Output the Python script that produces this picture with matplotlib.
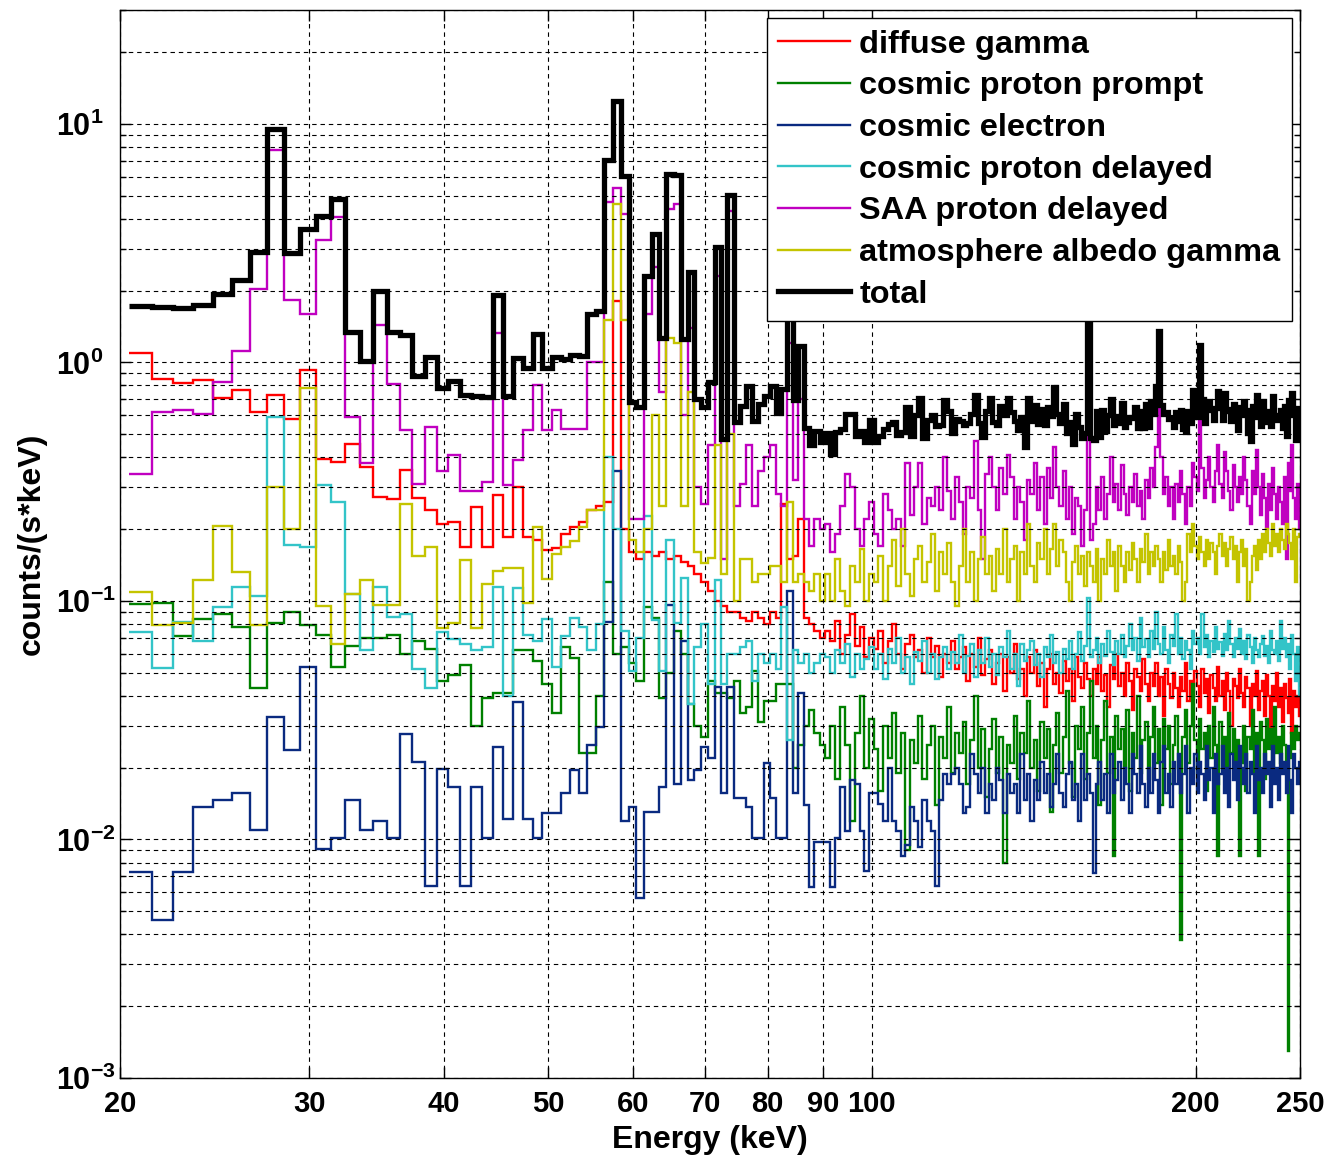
import numpy as np
import matplotlib
matplotlib.use("Agg")
import matplotlib.pyplot as plt
from matplotlib.ticker import FixedLocator, NullFormatter

plt.rcParams['font.family'] = ['Liberation Sans', 'DejaVu Sans']
plt.rcParams['font.weight'] = 'bold'
plt.rcParams['mathtext.fontset'] = 'custom'
plt.rcParams['mathtext.bf'] = 'Liberation Sans:bold'
plt.rcParams['mathtext.rm'] = 'Liberation Sans:bold'

# 1 keV energy bins from 20.4 to 250.4 keV
energy_edges = np.arange(20.4, 251.0, 1.0)

# counts/(s*keV) per bin, one value per 1 keV bin (21 ... 250 keV)
diffuse_gamma = [
    1.09, 0.855, 0.82, 0.846, 0.711, 0.763, 0.619, 0.727, 0.58, 0.93,      # 21-30
    0.395, 0.382, 0.456, 0.364, 0.272, 0.268, 0.353, 0.27, 0.24, 0.21,     # 31-40
    0.215, 0.168, 0.247, 0.168, 0.277, 0.185, 0.30, 0.185, 0.18, 0.163,    # 41-50
    0.167, 0.19, 0.205, 0.215, 0.24, 0.25, 0.26, 1.8, 0.20, 0.16,          # 51-60
    0.15, 0.16, 0.155, 0.16, 0.15, 0.155, 0.145, 0.14, 0.13, 0.12,         # 61-70
    0.11, 0.10, 0.095, 0.09, 0.09, 0.085, 0.082, 0.09, 0.085, 0.08,        # 71-80
    0.09, 0.085, 0.256, 0.15, 0.155, 0.22, 0.085, 0.08, 0.075, 0.07,       # 81-90
    .075, .068, .082, .060, .072, .088, .065, .078, .058, .070,            # 91-100
    .063, .075, .055, .068, .080, .060, .052, .066, .072, .058,
    .062, .050, .070, .058, .065, .048, .060, .055, .068, .052,
    .058, .064, .046, .060, .053, .070, .049, .057, .062, .045,
    .055, .060, .042, .058, .050, .066, .047, .052, .040, .058,
    .050, .062, .044, .055, .036, .052, .060, .045, .050, .041,
    .056, .046, .052, .038, .058, .048, .043, .055, .047, .040,
    .052, .045, .058, .042, .049, .036, .054, .047, .060, .044,
    .050, .040, .055, .046, .035, .052, .048, .042, .057, .045,
    .038, .050, .044, .055, .040, .048, .033, .052, .045, .039,
    .050, .043, .036, .048, .042, .055, .038, .046, .040, .051,
    .044, .036, .052, .041, .047, .034, .049, .043, .038, .053,
    .040, .046, .035, .050, .042, .030, .047, .044, .039, .052,
    .041, .036, .048, .043, .030, .045, .040, .051, .035, .042,
    .046, .033, .049, .040, .028, .044, .038, .050, .036, .043,
    .031, .045, .039, .034, .047, .028, .042, .036, .040, .033,            # 241-250
]

cosmic_proton_prompt = [
    .097, .098, .071, .084, .088, .0775, .043, .081, .090, .079,
    .072, .0527, .065, .07, .07, .072, .060, .068, .063, .046,
    .049, .054, .030, .039, .041, .041, .062, .062, .056, .045,
    .034, .064, .0575, .023, .023, .04, .12, .06, .064, .055,
    .046, .094, .085, .039, .05, .075, .06, .037, .03, .027,
    .046, .041, .041, .039, .046, .034, .036, .051, .031, .038,
    .038, .045, .045, .045, .02, .025, .03, .035, .028, .025,
    .022, .030, .018, .036, .025, .012, .028, .040, .020, .032,
    .024, .016, .030, .022, .034, .019, .028, .009, .026, .021,
    .033, .018, .025, .030, .014, .027, .022, .036, .019, .028,
    .023, .031, .017, .026, .040, .020, .029, .015, .024, .032,
    .019, .027, .008, .025, .021, .033, .018, .028, .023, .038,
    .020, .026, .016, .031, .022, .029, .013, .025, .034, .019,
    .027, .042, .021, .015, .030, .024, .036, .018, .028, .046,
    .022, .030, .014, .026, .038, .019, .027, .0085, .033, .024,
    .029, .020, .035, .016, .028, .022, .040, .019, .026, .031,
    .018, .027, .036, .021, .029, .014, .032, .024, .030, .017,
    .025, .033, .020, .0038, .027, .035, .021, .030, .045, .026,
    .019, .032, .024, .028, .016, .030, .022, .036, .025, .0085,
    .031, .020, .027, .018, .034, .023, .029, .018, .026, .0085,
    .021, .030, .016, .027, .024, .035, .019, .028, .0085, .031,
    .026, .018, .032, .024, .029, .020, .036, .023, .027, .021,
    .030, .025, .020, .0013, .022, .028, .024, .030, .026, .028,
]

cosmic_electron = [
    .0073, .0046, .0073, .0137, .0147, .0156, .011, .0326, .0236, .0527,
    .0091, .0101, .0147, .011, .012, .0101, .0277, .0211, .0064, .0198,
    .0166, .0064, .0166, .0101, .0245, .0122, .0377, .0122, .0101, .0129,
    .0129, .0156, .0195, .0156, .025, .0295, .0815, .35, .012, .0137,
    .0057, .013, .013, .0166, .096, .0171, .068, .0177, .0195, .0245,
    .0219, .0435, .0156, .0435, .0149, .0149, .0137, .0101, .0101, .021,
    .0149, .0101, .0101, .110, .0156, .041, .014, .0063, .0098, .0098,
    .0098, .0063, .0101, .0166, .0109, .0177, .0171, .0109, .0074, .0156,
    .0156, .0141, .012, .020, .012, .0109, .0085, .0095, .0137, .012,
    .0093, .0146, .012, .0109, .0064, .0146, .0188, .0171, .0188, .020,
    .0171, .0129, .0137, .0229, .0188, .0156, .020, .0129, .0171, .0146,
    .020, .0177, .0129, .0188, .0156, .0171, .0129, .0229, .0146, .0188,
    .012, .0177, .0146, .0211, .0156, .0188, .0137, .0171, .0229, .0156,
    .0137, .0188, .0211, .0146, .0171, .012, .0229, .0146, .0188, .0156,
    .0072, .0171, .0211, .0146, .0188, .0129, .0229, .0156, .0177, .0211,
    .0146, .020, .0171, .0129, .0229, .0188, .0156, .0246, .0171, .0137,
    .020, .0156, .0229, .0177, .0129, .0211, .0246, .0156, .0188, .0137,
    .0211, .0171, .0229, .0156, .0188, .0246, .0129, .020, .0171, .0229,
    .0156, .0211, .0188, .0146, .0246, .0177, .020, .0129, .0229, .0171,
    .0188, .0246, .0156, .020, .0137, .0229, .0177, .0211, .0146, .0246,
    .020, .0171, .0229, .0156, .0211, .0188, .0129, .0246, .0177, .020,
    .0156, .0229, .0188, .0211, .0137, .0246, .0171, .020, .0146, .0229,
    .0188, .0211, .0156, .0246, .0177, .0129, .0229, .020, .0171, .0211,
]

cosmic_proton_delayed = [
    .074, .0525, .0815, .068, .094, .114, .105, .59, .171, .168,
    .305, .259, .107, .062, .114, .086, .088, .052, .043, .074,
    .069, .066, .062, .064, .114, .040, .113, .072, .068, .084,
    .053, .071, .085, .0775, .062, .08, .40, .20, .075, .051,
    .07, .228, .083, .051, .18, .081, .125, .037, .064, .08,
    .045, .122, .045, .06, .06, .064, .068, .046, .06, .055,
    .06, .052, .094, .026, .062, .055, .06, .05, .055, .06,
    .058, .050, .062, .055, .066, .048, .060, .052, .057, .064,
    .052, .060, .047, .063, .055, .070, .050, .058, .045, .061,
    .056, .068, .050, .060, .047, .058, .064, .052, .061, .055,
    .072, .050, .059, .066, .048, .062, .055, .070, .053, .060,
    .049, .064, .058, .075, .052, .060, .044, .066, .056, .062,
    .068, .054, .060, .048, .064, .058, .072, .055, .061, .050,
    .063, .057, .068, .052, .060, .074, .056, .065, .103, .058,
    .062, .070, .055, .066, .059, .075, .061, .054, .068, .060,
    .072, .058, .065, .080, .062, .070, .056, .085, .064, .069,
    .058, .075, .063, .090, .066, .060, .078, .062, .055, .072,
    .065, .088, .060, .070, .057, .068, .062, .052, .075, .066,
    .070, .060, .088, .064, .072, .058, .068, .061, .078, .063,
    .067, .059, .073, .062, .082, .066, .058, .070, .063, .076,
    .060, .068, .057, .072, .064, .055, .070, .062, .058, .066,
    .071, .059, .065, .055, .075, .062, .060, .068, .056, .082,
    .063, .070, .058, .066, .052, .072, .060, .046, .064, .040,
]

saa_proton_delayed = [
    .34, .62, .63, .61, .827, 1.12, 2.04, 7.8, 1.82, 1.6,
    3.25, 4.06, .59, .38, 1.43, .81, .52, .31, .535, .352,
    .408, .29, .29, .315, 1.33, .305, .388, .52, .8, .52,
    .63, .527, .527, .527, 1.0, 1.0, 4.7, 5.4, 4.2, .22,
    .22, 1.6, 2.5, .75, 4.4, 4.6, .6, 1.4, .3, .256,
    .45, 2.3, .15, 4.3, .25, .31, .45, .25, .35, .40,
    .45, .28, .25, 1.2, .32, .70, .22, .17, .22, .2,
    .21, .16, .19, .25, .34, .30, .20, .17, .22, .26,
    .19, .17, .28, .24, .20, .22, .17, .38, .23, .30,
    .38, .21, .27, .25, .30, .24, .40, .29, .22, .33,
    .26, .19, .30, .27, .47, .24, .15, .34, .40, .30,
    .24, .36, .28, .41, .33, .22, .30, .26, .18, .32,
    .28, .38, .24, .33, .21, .36, .27, .44, .30, .25,
    .35, .22, .30, .19, .27, .25, .17, .24, 1.25, .18,
    .21, .30, .24, .33, .22, .28, .40, .26, .31, .24,
    .37, .28, .23, .30, .26, .34, .25, .29, .22, .32,
    .27, .36, .30, .44, 1.05, .40, .28, .33, .25, .30,
    .22, .31, .26, .35, .28, .21, .30, .25, .38, .33,
    .29, .85, .36, .27, .32, .40, .30, .26, .35, .45,
    .31, .27, .42, .35, .29, .24, .37, .30, .26, .33,
    .28, .40, .32, .25, .21, .35, .28, .43, .30, .23,
    .34, .27, .20, .31, .24, .36, .28, .22, .30, .26,
    .21, .33, .15, .38, .29, .45, .27, .22, .31, .20,
]

albedo_gamma = [
    .109, .079, .081, .122, .207, .132, .079, .30, .20, .78,
    .095, .066, .107, .122, .096, .096, .256, .155, .168, .077,
    .081, .148, .077, .118, .134, .138, .138, .098, .204, .124,
    .158, .168, .179, .204, .24, .24, 1.5, 4.6, 1.5, .18,
    .16, .2, .6, .25, 1.26, 1.2, .25, .75, .16, .144,
    .152, .45, .13, .5, .10, .15, .15, .12, .13, .13,
    .14, .14, .12, .26, .12, .13, .12, .11, .13, .10,
    .13, .10, .15, .11, .095, .14, .12, .165, .10, .13,
    .12, .155, .10, .14, .18, .115, .20, .13, .105, .15,
    .17, .12, .145, .19, .11, .16, .13, .175, .12, .095,
    .14, .20, .12, .16, .10, .15, .185, .13, .155, .11,
    .165, .13, .20, .12, .15, .17, .10, .16, .13, .21,
    .14, .12, .175, .15, .20, .13, .165, .21, .14, .18,
    .16, .12, .10, .145, .17, .13, .155, .115, .16, .14,
    .12, .165, .10, .15, .13, .18, .14, .16, .11, .17,
    .14, .12, .16, .135, .175, .15, .12, .165, .145, .19,
    .13, .16, .14, .17, .15, .12, .16, .135, .18, .14,
    .155, .13, .17, .145, .10, .12, .19, .16, .21, .17,
    .15, .185, .16, .14, .18, .15, .175, .16, .13, .17,
    .19, .155, .175, .14, .165, .185, .15, .17, .12, .16,
    .18, .14, .165, .10, .12, .155, .17, .135, .18, .15,
    .19, .16, .20, .175, .155, .21, .17, .19, .16, .20,
    .18, .165, .21, .19, .175, .15, .20, .12, .185, .19,
]

series_labels = ['diffuse gamma', 'cosmic proton prompt', 'cosmic electron',
                 'cosmic proton delayed', 'SAA proton delayed',
                 'atmosphere albedo gamma', 'total']
series_colors = ['#ff0000', '#008000', '#0a2a80', '#33c4c8', '#c000c0',
                 '#c4c400', '#000000']

components = [diffuse_gamma, cosmic_proton_prompt, cosmic_electron,
              cosmic_proton_delayed, saa_proton_delayed, albedo_gamma]
total = np.sum(np.array(components, dtype=float), axis=0)

x_ticks = [20, 30, 40, 50, 60, 70, 80, 90, 100, 200, 250]
y_ticks = [1e-3, 1e-2, 1e-1, 1e0, 1e1]
y_tick_labels = [r'$\mathbf{10^{-3}}$', r'$\mathbf{10^{-2}}$', r'$\mathbf{10^{-1}}$',
                 r'$\mathbf{10^{0}}$', r'$\mathbf{10^{1}}$']

fig = plt.figure(figsize=(13.31, 11.59), dpi=100)
ax = fig.add_axes([120 / 1331, 1 - 1078 / 1159, 1180 / 1331, 1068 / 1159])
ax.set_xscale('log')
ax.set_yscale('log')

for vals, lab, col in zip(components + [total], series_labels, series_colors):
    lw = 3.8 if lab == 'total' else 1.7
    ax.stairs(vals, energy_edges, baseline=None, color=col, lw=lw, label=lab)

ax.set_xlim(20, 250)
ax.set_ylim(1e-3, 30)

ax.xaxis.set_major_locator(FixedLocator(x_ticks))
ax.xaxis.set_minor_locator(FixedLocator([]))
ax.set_xticklabels([str(t) for t in x_ticks])
ax.yaxis.set_major_locator(FixedLocator(y_ticks))
ax.set_yticklabels(y_tick_labels, ha='left')
y_minor = [m * 10.0 ** e for e in range(-3, 2) for m in range(2, 10)]
ax.yaxis.set_minor_locator(FixedLocator(y_minor))
ax.yaxis.set_minor_formatter(NullFormatter())

grid_style = dict(color='black', linestyle=(0, (4, 3.5)), linewidth=0.8)
ax.grid(True, which='major', axis='both', **grid_style)
ax.grid(True, which='minor', axis='y', **grid_style)

ax.tick_params(which='both', direction='in', top=True, right=True, width=1.0)
ax.tick_params(which='major', length=8)
ax.tick_params(axis='x', which='major', pad=9, labelsize=21)
# exponent labels share a common left edge, the exponent running toward the axis
ax.tick_params(axis='y', which='major', pad=46, labelsize=22)
ax.tick_params(which='minor', length=4)
for sp in ax.spines.values():
    sp.set_linewidth(1.0)

ax.set_xlabel('Energy (keV)', fontsize=23, fontweight='bold', labelpad=5)
ax.set_ylabel('counts/(s*keV)', fontsize=23, fontweight='bold')
ax.yaxis.set_label_coords(-0.062, 0.5)

leg = ax.legend(loc='upper right', fontsize=23.4, frameon=True, fancybox=False,
                edgecolor='black', framealpha=1, borderaxespad=0.25,
                handlelength=2.2, labelspacing=0.36, handletextpad=0.3,
                borderpad=0.35)
leg.get_frame().set_linewidth(1.0)
for t in leg.get_texts():
    t.set_fontweight('bold')

fig.savefig('out.png', dpi=100)
